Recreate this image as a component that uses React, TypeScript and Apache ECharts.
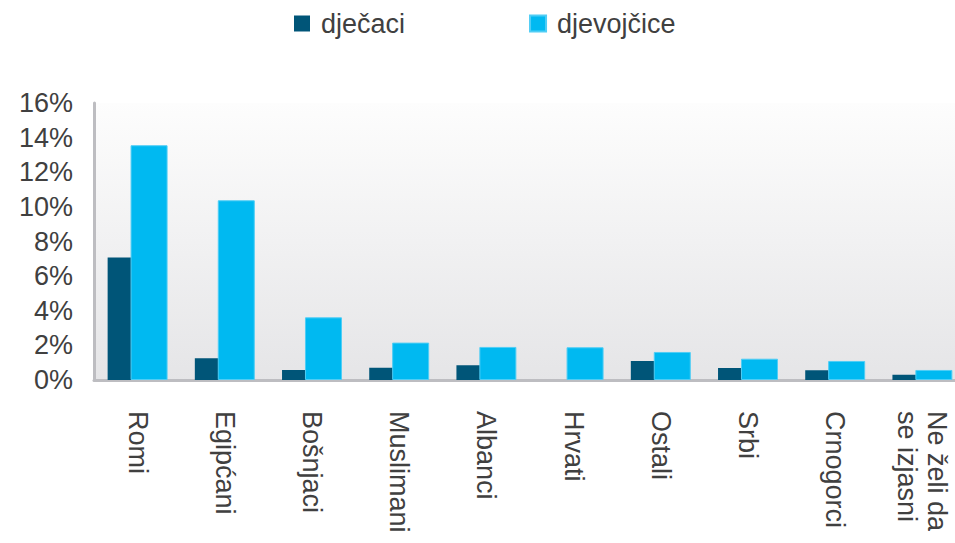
import React, { useEffect, useRef } from "react";
import * as echarts from "echarts";

const categories = [
  "Romi",
  "Egipćani",
  "Bošnjaci",
  "Muslimani",
  "Albanci",
  "Hrvati",
  "Ostali",
  "Srbi",
  "Crnogorci",
  "Ne želi da\nse izjasni",
];
const seriesNames = ["dječaci", "djevojčice"];
const boys = [7.07, 1.25, 0.58, 0.71, 0.85, 0, 1.1, 0.69, 0.56, 0.31];
const girls = [13.56, 10.38, 3.62, 2.16, 1.91, 1.89, 1.62, 1.23, 1.1, 0.58];
const yMin = 0;
const yMax = 16;
const yInterval = 2;

const FONT = "'Liberation Sans', Arial, sans-serif";
const TEXT = "#404040";

export default function App() {
  const ref = useRef<HTMLDivElement>(null);
  useEffect(() => {
    document.body.style.margin = "0";
    document.body.style.overflow = "hidden";
    document.documentElement.style.overflow = "hidden";
    if (!ref.current) return;
    const chart = echarts.init(ref.current, undefined, { renderer: "svg" });
    chart.setOption({
      animation: false,
      legend: {
        top: 10,
        left: 294,
        padding: 0,
        itemWidth: 16,
        itemHeight: 16,
        itemGap: 124,
        icon: "rect",
        textStyle: { fontFamily: FONT, fontSize: 27, color: TEXT, padding: [0, 0, 0, 6] },
        data: seriesNames,
      },
      grid: {
        left: 94,
        width: 872,
        top: 103,
        height: 277,
        show: true,
        borderWidth: 0,
        backgroundColor: new echarts.graphic.LinearGradient(0, 0, 0, 1, [
          { offset: 0, color: "#fdfdfd" },
          { offset: 1, color: "#e5e5e7" },
        ]),
      },
      xAxis: {
        type: "category",
        data: categories,
        axisLine: { show: true, lineStyle: { color: "#bdbdc1", width: 3 } },
        axisTick: { show: false },
        axisLabel: {
          rotate: -90,
          margin: 31,
          interval: 0,
          fontFamily: FONT,
          fontSize: 27,
          color: TEXT,
          lineHeight: 30,
        },
      },
      yAxis: {
        type: "value",
        min: yMin,
        max: yMax,
        interval: yInterval,
        axisLine: { show: true, lineStyle: { color: "#bdbdc1", width: 3 } },
        axisTick: { show: false },
        splitLine: { show: false },
        axisLabel: {
          margin: 21,
          fontFamily: FONT,
          fontSize: 27,
          color: TEXT,
          formatter: (v: number) => `${v}%`,
        },
      },
      series: [
        {
          name: seriesNames[0],
          type: "bar",
          data: boys,
          barWidth: 37,
          barGap: "-38%",
          itemStyle: { color: "#005578" },
        },
        {
          name: seriesNames[1],
          type: "bar",
          data: girls,
          barWidth: 37,
          barGap: "-38%",
          itemStyle: { color: "#00b9f1", borderColor: "#4fcdf5", borderWidth: 1 },
        },
      ],
    });
    return () => chart.dispose();
  }, []);
  return <div ref={ref} style={{ width: 970, height: 543 }} />;
}
